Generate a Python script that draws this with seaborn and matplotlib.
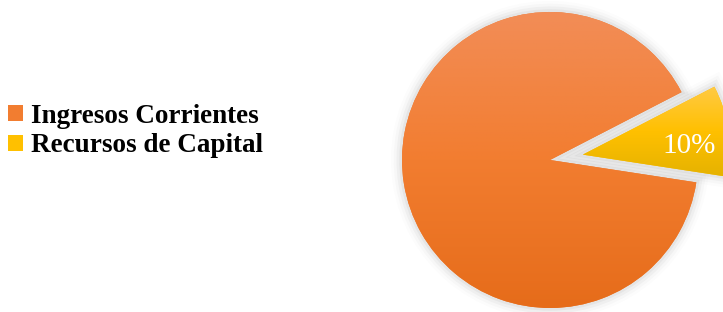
"""Pie chart: Ingresos Corrientes vs Recursos de Capital."""

import numpy as np
import seaborn as sns
import matplotlib.pyplot as plt
import matplotlib.patheffects as pe
from matplotlib.colors import LinearSegmentedColormap

# data
categories = ["Ingresos Corrientes", "Recursos de Capital"]
shares = [90, 10]
exploded = [0.0, 0.225]

# styling: top / middle / bottom colours of each slice gradient
gradients = [
    ["#F28D57", "#F27D30", "#E66C1A"],
    ["#FFCA45", "#FFC000", "#E5B200"],
]

sns.set_theme(style="white")
plt.rcParams["font.family"] = ["Liberation Serif", "DejaVu Serif"]

W, H, DPI = 723, 312, 100
fig = plt.figure(figsize=(W / DPI, H / DPI), dpi=DPI)
ax = fig.add_axes([0, 0, 1, 1])

# pie centre in pixels and radius
cx, cy, R = 550, 152, 148

wedges, texts, autotexts = ax.pie(
    shares,
    explode=exploded,
    startangle=27.3,
    colors=[g[1] for g in gradients],
    autopct=lambda p: f"{p:.0f}%" if p < 50 else "",
    pctdistance=0.74,
    textprops=dict(color="white", fontsize=21),
    wedgeprops=dict(linewidth=0),
)

ax.set_aspect("auto")
ax.set_xlim(-cx / R, (W - cx) / R)
ax.set_ylim(-cy / R, (H - cy) / R)
ax.axis("off")

# soft halo and vertical gradient fill for each slice
halo = [
    pe.Stroke(linewidth=16, foreground="black", alpha=0.012),
    pe.Stroke(linewidth=12, foreground="black", alpha=0.02),
    pe.Stroke(linewidth=8, foreground="black", alpha=0.03),
    pe.Stroke(linewidth=4, foreground="black", alpha=0.04),
    pe.Normal(),
]
for w, cols in zip(wedges, gradients):
    w.set_clip_on(False)
    w.set_path_effects(halo)
    w.set_zorder(1)
    bb = w.get_path().get_extents()
    cmap = LinearSegmentedColormap.from_list("g", cols[::-1])
    grad = np.linspace(0, 1, 256).reshape(-1, 1)
    im = ax.imshow(grad, cmap=cmap, origin="lower", aspect="auto",
                   extent=(bb.x0, bb.x1, bb.y0, bb.y1), zorder=2,
                   interpolation="bilinear")
    im.set_clip_path(w)

for t in autotexts:
    t.set_zorder(3)
    x, y = t.get_position()
    t.set_position((x - 2 / R, y - 9 / R))
for t in texts:
    t.set_text("")

leg = fig.legend(
    wedges, categories,
    loc="upper left",
    bbox_to_anchor=(8 / W, (H - 104) / H),
    frameon=False,
    borderpad=0, borderaxespad=0,
    handlelength=0.54, handleheight=0.54,
    handletextpad=0.3, labelspacing=0.16,
    prop=dict(family="Liberation Serif", weight="bold", size=19.5),
    labelcolor="black",
)
for h in leg.legend_handles:
    h.set_path_effects([])

fig.savefig("out.png", dpi=DPI)
